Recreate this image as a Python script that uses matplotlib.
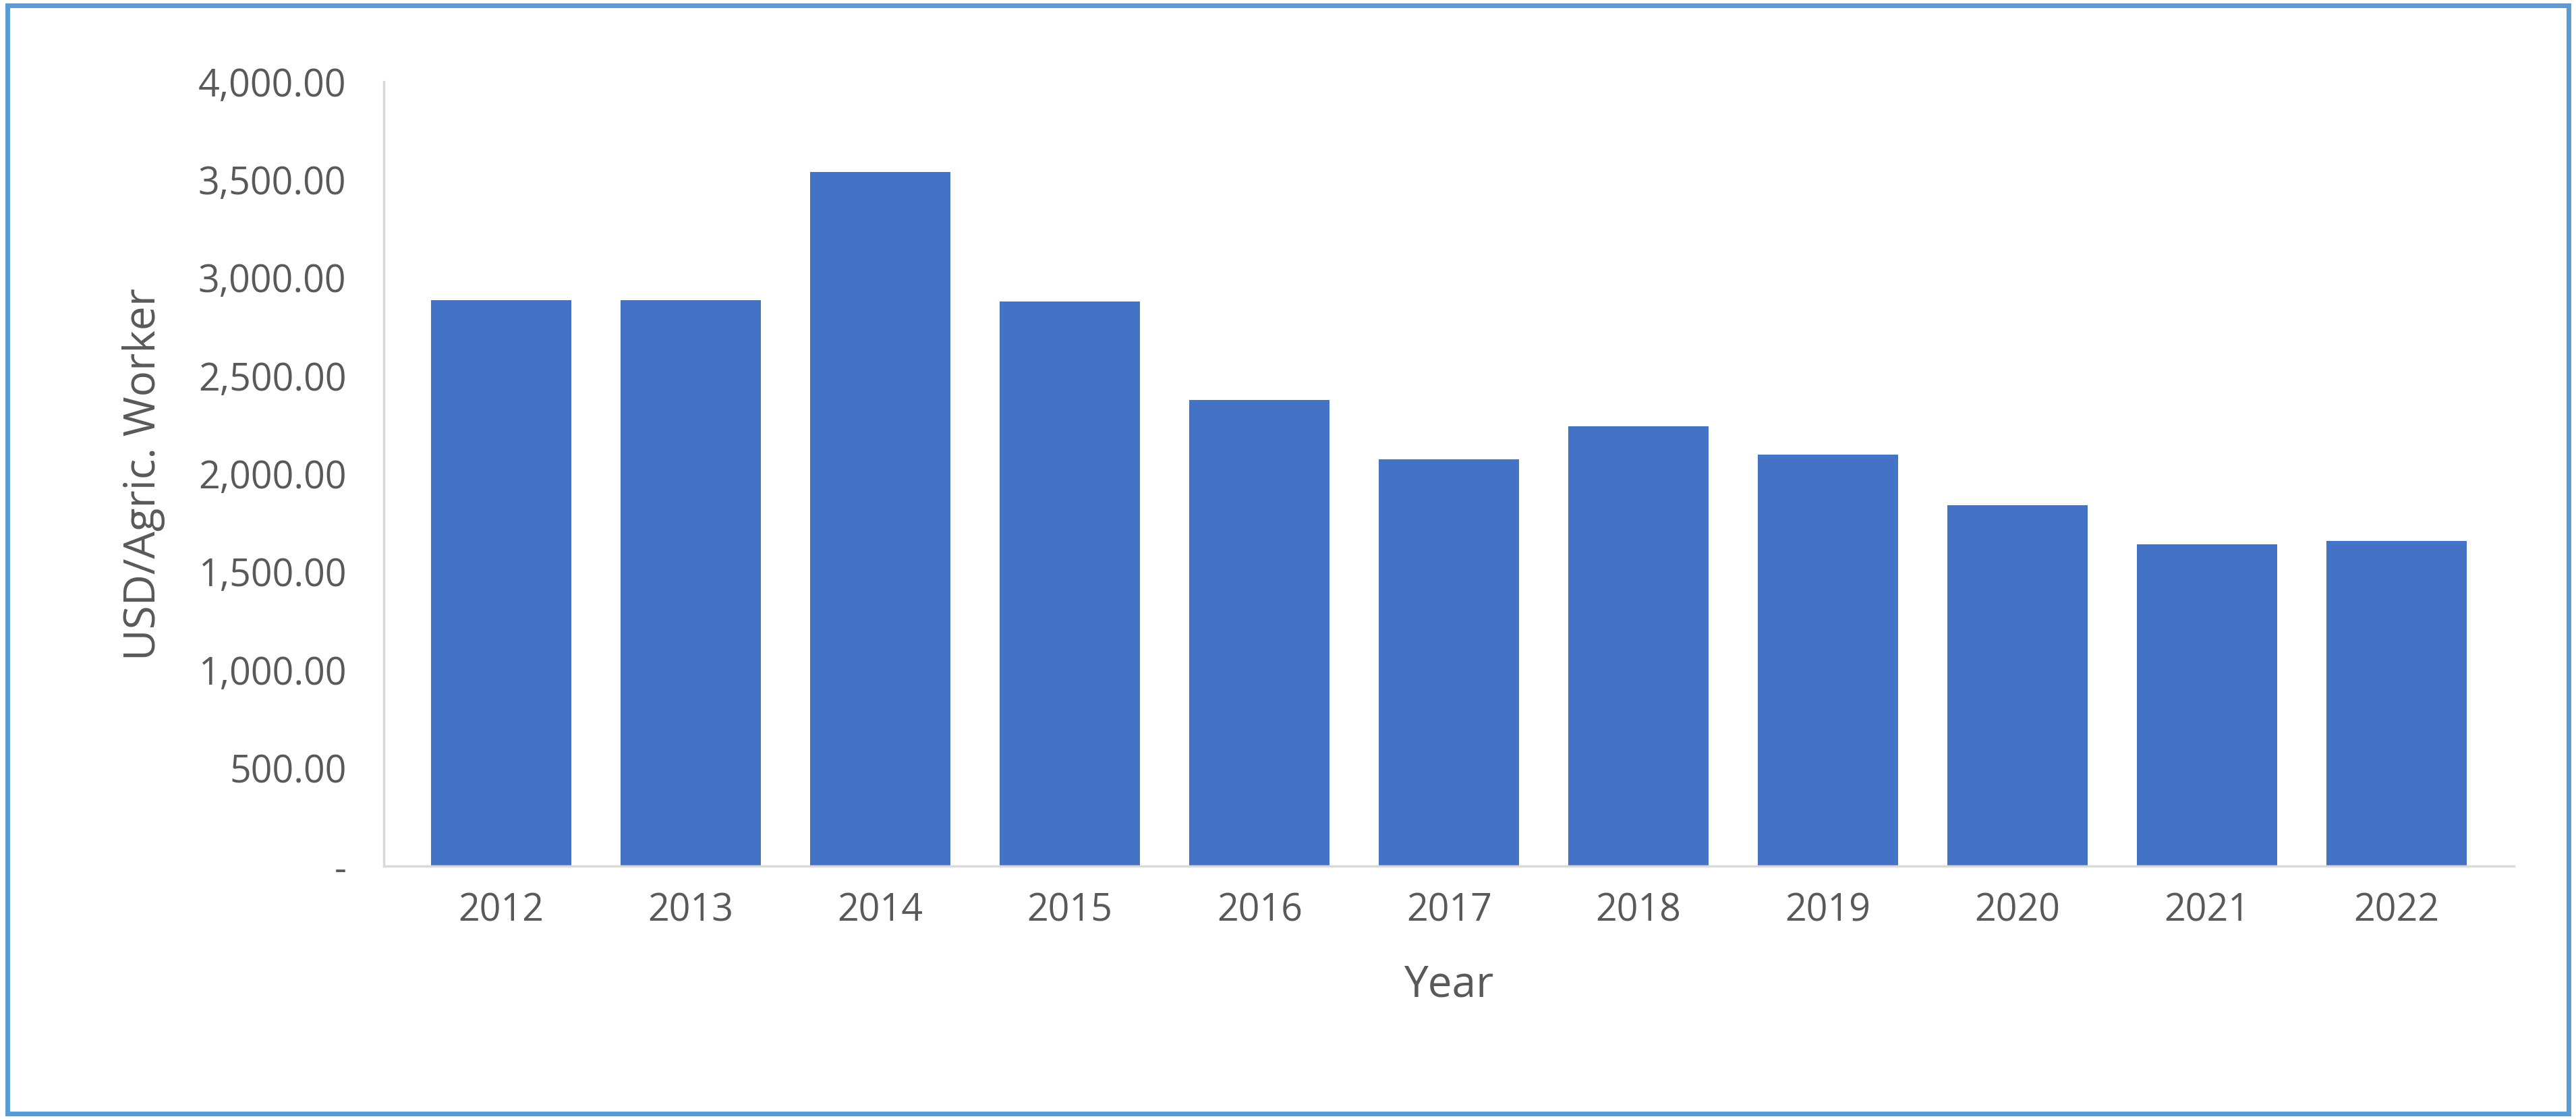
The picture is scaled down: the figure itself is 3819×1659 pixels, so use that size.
import matplotlib
matplotlib.use("Agg")
import matplotlib.pyplot as plt
from matplotlib.patches import Rectangle
from matplotlib.ticker import FuncFormatter

years = ["2012","2013","2014","2015","2016","2017","2018","2019","2020","2021","2022"]
values = [2887, 2887, 3540, 2879, 2377, 2075, 2243, 2100, 1841, 1640, 1657]

plt.rcParams['font.family'] = ['Open Sans', 'DejaVu Sans']
fig = plt.figure(figsize=(38.19, 16.59), dpi=100)
ax = fig.add_axes([0.149, 0.226, 0.827, 0.701])
ax.bar(range(len(years)), values, width=0.74, color="#4472C4")
ax.set_xlim(-0.62, len(years) - 0.38)
ax.set_ylim(0, 4000)
ax.set_yticks(range(0, 4001, 500))
ax.yaxis.set_major_formatter(FuncFormatter(lambda v, p: "-" if v == 0 else f"{v:,.2f}"))
ax.set_xticks(range(len(years)))
ax.set_xticklabels(years)
for s in ["top", "right"]:
    ax.spines[s].set_visible(False)
for s in ["left", "bottom"]:
    ax.spines[s].set_color("#D9D9D9")
    ax.spines[s].set_linewidth(2.5)
ax.tick_params(axis="both", colors="#595959", labelsize=40, length=0, pad=28)
ax.tick_params(axis="y", pad=40)
ax.set_xlabel("Year", fontsize=46, color="#595959", labelpad=35)
ax.set_ylabel("USD/Agric. Worker", fontsize=46, color="#595959", labelpad=35)
fig.patches.append(Rectangle((0.003, 0.005), 0.994, 0.99, transform=fig.transFigure,
                             fill=False, edgecolor="#5B9BD5", linewidth=5))
fig.savefig("out.png", dpi=100)
